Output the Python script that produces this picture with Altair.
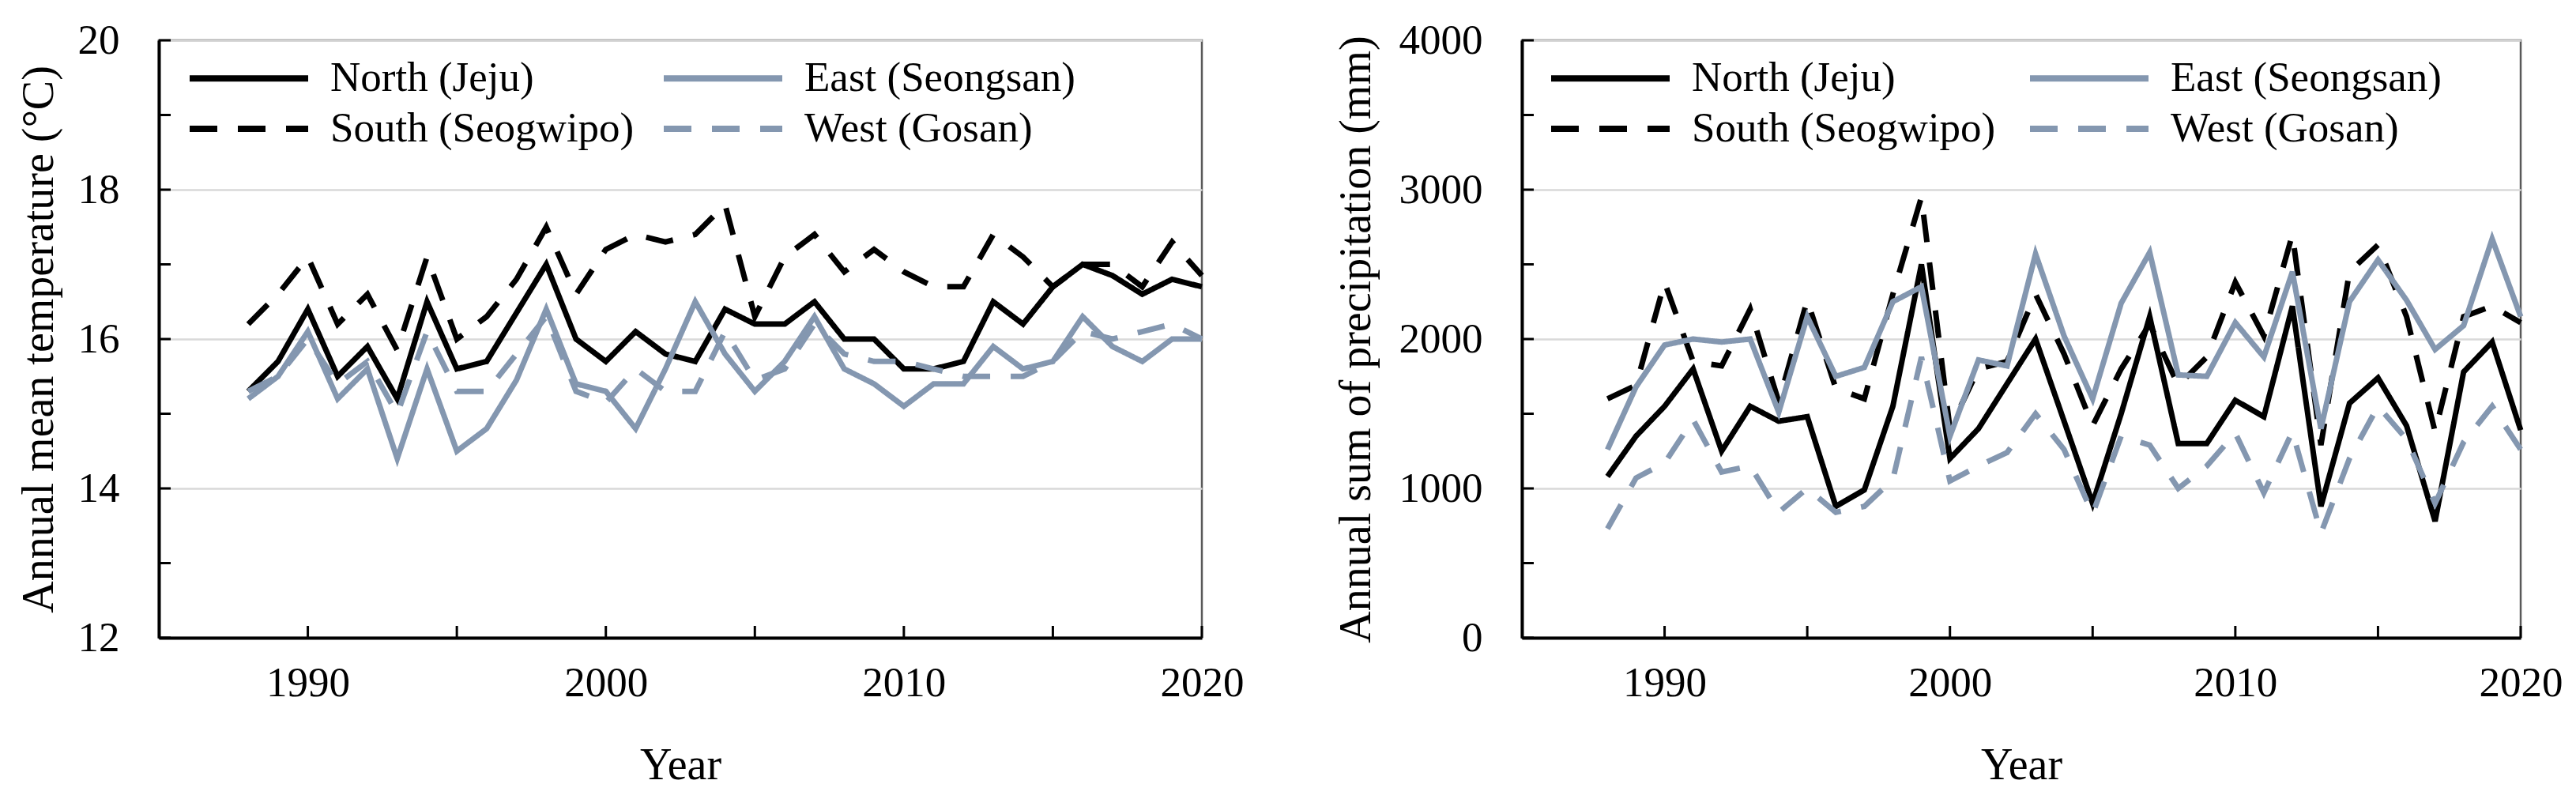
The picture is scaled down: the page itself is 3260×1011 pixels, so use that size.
import altair as alt
import pandas as pd

FONT = "Liberation Serif"

years = [1988, 1989, 1990, 1991, 1992, 1993, 1994, 1995, 1996, 1997, 1998,
         1999, 2000, 2001, 2002, 2003, 2004, 2005, 2006, 2007, 2008, 2009,
         2010, 2011, 2012, 2013, 2014, 2015, 2016, 2017, 2018, 2019, 2020]

stations = ["North (Jeju)", "South (Seogwipo)", "East (Seongsan)", "West (Gosan)"]
colors = ["#000000", "#000000", "#8497b0", "#8497b0"]
dashes = [[1, 0], [35, 26], [1, 0], [35, 26]]

# Annual mean temperature (°C)
temp_north = [15.3, 15.7, 16.4, 15.5, 15.9, 15.2, 16.5, 15.6, 15.7, 16.35, 17.0,
              16.0, 15.7, 16.1, 15.8, 15.7, 16.4, 16.2, 16.2, 16.5, 16.0, 16.0,
              15.6, 15.6, 15.7, 16.5, 16.2, 16.7, 17.0, 16.85, 16.6, 16.8, 16.7]
temp_south = [16.2, 16.6, 17.1, 16.2, 16.6, 15.85, 17.1, 16.0, 16.3, 16.8, 17.5,
              16.6, 17.2, 17.4, 17.3, 17.4, 17.8, 16.3, 17.1, 17.4, 16.9, 17.2,
              16.9, 16.7, 16.7, 17.4, 17.1, 16.7, 17.0, 17.0, 16.7, 17.3, 16.85]
temp_east = [15.2, 15.5, 16.1, 15.2, 15.6, 14.4, 15.6, 14.5, 14.8, 15.45, 16.4,
             15.4, 15.3, 14.8, 15.6, 16.5, 15.8, 15.3, 15.7, 16.3, 15.6, 15.4,
             15.1, 15.4, 15.4, 15.9, 15.6, 15.7, 16.3, 15.9, 15.7, 16.0, 16.0]
temp_west = [15.3, 15.5, 16.0, 15.4, 15.7, 15.0, 16.1, 15.3, 15.3, 15.8, 16.3,
             15.3, 15.15, 15.6, 15.3, 15.3, 16.1, 15.45, 15.6, 16.2, 15.8, 15.7,
             15.7, 15.6, 15.5, 15.5, 15.5, 15.7, 16.1, 16.0, 16.1, 16.2, 16.0]

# Annual sum of precipitation (mm)
prec_north = [1080, 1350, 1550, 1800, 1250, 1550, 1450, 1480, 880, 990, 1550,
              2500, 1200, 1400, 1700, 2000, 1450, 900, 1500, 2150, 1300, 1300,
              1590, 1480, 2220, 880, 1570, 1740, 1420, 780, 1780, 1980, 1390]
prec_south = [1600, 1690, 2380, 1850, 1820, 2200, 1580, 2260, 1670, 1600, 2300,
              2950, 1400, 1800, 1850, 2300, 1900, 1420, 1800, 2100, 1690, 1880,
              2380, 2020, 2700, 1290, 2450, 2630, 2150, 1380, 2150, 2220, 2110]
prec_east = [1260, 1680, 1960, 2000, 1980, 2000, 1510, 2150, 1750, 1810, 2250,
             2350, 1350, 1860, 1820, 2570, 2020, 1600, 2240, 2580, 1760, 1750,
             2110, 1880, 2450, 1400, 2250, 2530, 2260, 1930, 2090, 2670, 2150]
prec_west = [730, 1070, 1170, 1460, 1110, 1150, 840, 1000, 840, 880, 1060,
             1880, 1050, 1150, 1240, 1500, 1260, 830, 1350, 1290, 1000, 1150,
             1370, 970, 1380, 700, 1200, 1550, 1330, 900, 1310, 1550, 1260]

temp_major = [12, 14, 16, 18, 20]
temp_minor = [12, 13, 14, 15, 16, 17, 18, 19, 20]
prec_major = [0, 1000, 2000, 3000, 4000]
prec_minor = [0, 500, 1000, 1500, 2000, 2500, 3000, 3500, 4000]
year_labels = [1990, 2000, 2010, 2020]
year_ticks = [1990, 1995, 2000, 2005, 2010, 2015, 2020]


def long_df(series):
    rows = []
    for name, vals in zip(stations, series):
        for y, v in zip(years, vals):
            rows.append({"year": y, "station": name, "value": v})
    return pd.DataFrame(rows)


temp_df = long_df([temp_north, temp_south, temp_east, temp_west])
prec_df = long_df([prec_north, prec_south, prec_east, prec_west])

H = 756


def panel(df, y_title, y_domain, y_major, y_minor, W, title_x, legend_x, col_pad):
    x_scale = alt.Scale(domain=[1985, 2020], nice=False, zero=False)
    y_scale = alt.Scale(domain=y_domain, nice=False, zero=False)
    x_axis = alt.Axis(
        values=year_labels, format="d", title="Year", grid=False,
        ticks=False, tickSize=0, labelPadding=31, labelFlush=False,
        domainColor="#000000", domainWidth=4,
        titleY=178, titleBaseline="alphabetic")
    y_axis = alt.Axis(
        values=y_major, format="d", title=y_title, grid=True, gridColor="#d9d9d9",
        gridWidth=2.5, ticks=False, tickSize=0, labelPadding=50,
        domainColor="#000000", domainWidth=4,
        titleX=title_x, titleY=H / 2, titleAngle=270,
        titleAlign="center", titleBaseline="alphabetic")
    legend = alt.Legend(
        title=None, orient="none", legendX=legend_x, legendY=21.5, columns=2,
        symbolType="M0,0H10", symbolSize=900, symbolStrokeWidth=8,
        labelOffset=151.5, columnPadding=col_pad, rowPadding=10, padding=0,
        labelFont=FONT, labelFontSize=53, labelColor="#000000", labelLimit=0,
    )
    lines = alt.Chart(df).mark_line(strokeWidth=7).encode(
        x=alt.X("year:Q", scale=x_scale, axis=x_axis),
        y=alt.Y("value:Q", scale=y_scale, axis=y_axis),
        color=alt.Color("station:N", scale=alt.Scale(domain=stations, range=colors),
                        legend=legend),
        strokeDash=alt.StrokeDash("station:N",
                                  scale=alt.Scale(domain=stations, range=dashes),
                                  legend=legend),
    )
    yticks = alt.Chart(pd.DataFrame({"value": y_minor})).mark_rule(
        color="#000000", strokeWidth=3).encode(
        y=alt.Y("value:Q", scale=y_scale, axis=y_axis),
        x=alt.value(0), x2=alt.value(15))
    xticks = alt.Chart(pd.DataFrame({"year": year_ticks})).mark_rule(
        color="#000000", strokeWidth=3).encode(
        x=alt.X("year:Q", scale=x_scale, axis=x_axis),
        y=alt.value(H), y2=alt.value(H - 15))
    return alt.layer(lines, yticks, xticks).properties(width=W, height=H)


left = panel(temp_df, "Annual mean temperature (°C)", [12, 20], temp_major,
             temp_minor, 1320, -135, 12.5, 11)
right = panel(prec_df, "Annual sum of precipitation (mm)", [0, 4000], prec_major,
              prec_minor, 1264, -193, 10.5, 17)

chart = alt.hconcat(left, right, spacing=405, bounds="flush").resolve_scale(
    color="independent", strokeDash="independent", x="independent", y="independent"
).configure_view(
    stroke="#595959", strokeWidth=2.5
).configure_axis(
    labelFont=FONT, titleFont=FONT, labelFontSize=53, titleFontSize=56,
    labelColor="#000000", titleColor="#000000", titleFontWeight="normal"
).properties(
    padding={"left": 11, "top": 15, "right": 5, "bottom": 5},
    background="white"
)

chart.save("out.html", embed_options={"renderer": "svg", "actions": False})
